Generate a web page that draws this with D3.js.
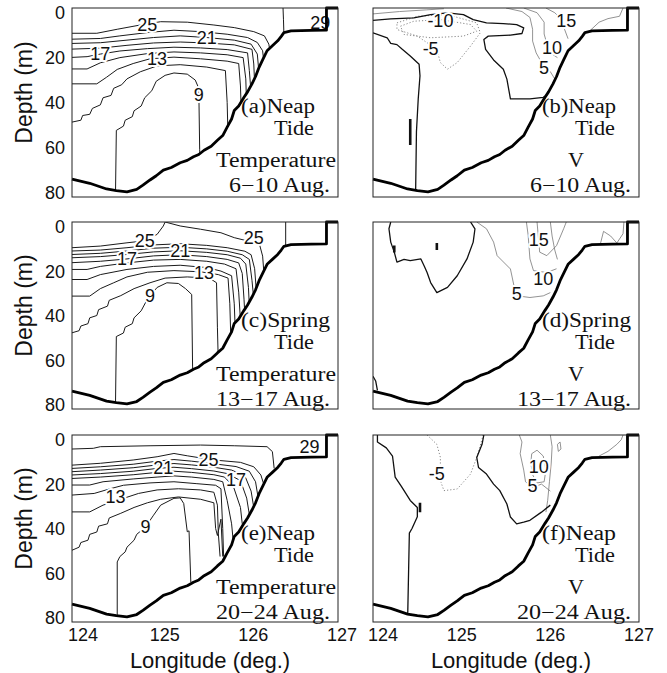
<!DOCTYPE html>
<html>
<head>
<meta charset="utf-8">
<script src="https://cdn.jsdelivr.net/npm/d3@7"></script>
<style>
  body { margin: 0; background: #fff; }
  text { font-family: "Liberation Sans", Arial, sans-serif; fill: #111; }
  .note { font-family: "Liberation Serif", "Times New Roman", serif; font-size: 20px; }
  .clab { font-size: 18px; stroke: #fff; stroke-width: 4px; paint-order: stroke; stroke-linejoin: round; }
</style>
</head>
<body>
<div id="chart"></div>
<script>
// axis ticks
const lonTicks = [124, 125, 126, 127];
const depthTicks = [0, 20, 40, 60, 80];

// bottom topography (lon, depth m) - same section for all panels
const bathy = [[124.0,72.4],[124.2,74.2],[124.39,76.6],[124.5,77.3],[124.62,77.8],[124.73,76.8],
  [124.8,75],[124.88,72.8],[124.95,71],[125.03,68.6],[125.12,67.5],[125.22,65.5],[125.3,64.5],
  [125.37,63],[125.43,62],[125.49,60.2],[125.57,58.5],[125.64,56],[125.7,54],[125.75,50.4],
  [125.8,47],[125.83,43.4],[125.88,41.5],[125.94,37.8],[125.98,35.5],[126.03,32.1],[126.07,29],
  [126.11,25.1],[126.15,22],[126.2,18.1],[126.26,16],[126.32,13.9],[126.36,12],[126.39,10.4],
  [126.47,9.7],[126.7,9.5],[126.87,9.4],[126.87,0],[127,0]];

// temperature contours, 6-10 Aug. (neap)
const tempA = [
  [[126.38,0],[126.385,5],[126.39,11]],
  [[124,10.7],[124.28,10.7],[124.51,9.0],[124.77,7.2],[125.0,5.8],[125.3,6.0],[125.6,7.2],[125.83,8.3],[126.05,10.0],[126.17,11.8],[126.22,15.3],[126.24,20]],
  [[124,13.2],[124.32,12.9],[124.54,11.8],[124.85,10.4],[125.15,9.4],[125.45,10.0],[125.75,11.1],[125.98,12.5],[126.09,14.6],[126.15,18.1],[126.17,25]],
  [[124,15.0],[124.32,14.7],[124.62,13.6],[124.92,12.5],[125.22,11.8],[125.52,12.5],[125.83,13.6],[126.02,15.3],[126.09,19.5],[126.11,28]],
  [[124,17.4],[124.32,17.0],[124.62,15.8],[124.92,14.8],[125.22,14.4],[125.52,14.8],[125.83,15.6],[126.03,17.5],[126.05,23.7],[126.06,32]],
  [[124,20.9],[124.17,20.6],[124.32,19.5],[124.54,18.2],[124.85,17.2],[125.15,16.6],[125.45,16.9],[125.75,17.6],[125.98,19],[126.0,26.5],[126.02,36]],
  [[124,25.8],[124.17,25.8],[124.32,23.2],[124.54,21],[124.85,19.3],[125.15,18.6],[125.45,19],[125.75,19.8],[125.93,21],[125.96,30],[125.97,42]],
  [[124,32.1],[124.28,32.1],[124.39,29.3],[124.51,26],[124.69,23.5],[124.88,21.5],[125.15,20.8],[125.45,21.5],[125.75,22.5],[125.88,23.5],[125.9,33],[125.91,45]],
  [[124,48.3],[124.1,47.5],[124.12,45.5],[124.2,45],[124.23,42.5],[124.32,41],[124.35,38],[124.44,37],[124.47,34],[124.56,32.5],[124.62,30],[124.77,27],[124.96,24.5],[125.22,24],[125.52,25],[125.73,26.5],[125.75,40],[125.76,55]],
  [[124.49,80],[124.5,51.8],[124.58,50],[124.6,47.5],[124.68,46],[124.7,43.5],[124.78,41.5],[124.82,38],[124.9,35],[124.95,31],[125.05,28.5],[125.15,27.5],[125.3,28],[125.39,30.5],[125.43,34],[125.44,60],[125.45,70]]
];
const labA = [["25",124.85,7],["21",125.52,12.6],["17",124.32,19.6],["13",124.96,21.4],["9",125.43,37],["29",126.8,6.3]];

// temperature contours, 13-17 Aug. (spring)
const tempC = [
  [[126.41,0],[126.41,10.5]],
  [[124,11],[124.32,10.3],[124.62,8.9],[124.81,8.1],[124.96,5.3],[125.03,1.7],[125.05,0]],
  [[125.05,0],[125.22,1.7],[125.45,3.1],[125.68,4.6],[125.83,6.7],[125.98,8.1],[126.11,8.9],[126.15,14.6],[126.17,24.6]],
  [[124,12.4],[124.32,12],[124.62,11],[124.92,9.8],[125.22,9.3],[125.52,10],[125.75,11],[125.95,12.5],[126.02,14],[126.06,20],[126.08,30]],
  [[124,13.9],[124.32,13.4],[124.62,12.4],[124.92,11.2],[125.22,10.8],[125.52,11.5],[125.75,12.5],[125.92,14],[126.0,16],[126.03,25],[126.05,33]],
  [[124,15.3],[124.32,14.8],[124.62,13.9],[124.92,12.8],[125.22,12.3],[125.52,13],[125.75,14],[125.9,15.5],[125.96,18],[125.99,28],[126.0,36]],
  [[124,17.4],[124.32,16.8],[124.62,15.8],[124.92,14.5],[125.22,14],[125.52,14.8],[125.75,16],[125.88,17.5],[125.92,22],[125.94,33],[125.95,40]],
  [[124,20.3],[124.17,20.3],[124.32,19],[124.62,17.5],[124.92,16.3],[125.22,16],[125.52,16.8],[125.72,18],[125.85,20],[125.88,30],[125.9,42]],
  [[124,24.6],[124.17,24.6],[124.32,22.5],[124.62,20.3],[124.92,19],[125.22,18.5],[125.52,19.5],[125.68,21],[125.8,23],[125.83,35],[125.84,45]],
  [[124,31.7],[124.2,31.7],[124.32,28.5],[124.47,26],[124.62,23.5],[124.85,21.5],[125.15,20.8],[125.45,21.3],[125.65,22.5],[125.76,24],[125.78,35],[125.79,48]],
  [[124,47.4],[124.08,46.5],[124.1,44.5],[124.18,43.5],[124.2,41],[124.28,40],[124.3,37.5],[124.4,36],[124.42,33.5],[124.55,31.5],[124.7,28.5],[124.88,26],[125.05,24],[125.3,23.5],[125.55,24],[125.63,26],[125.64,45],[125.65,60]],
  [[124.49,80],[124.5,49],[124.58,47.5],[124.6,45],[124.68,43.5],[124.7,41],[124.78,38],[124.85,33],[124.96,28],[125.07,26],[125.2,26.3],[125.28,28.5],[125.35,31],[125.36,62],[125.37,70]]
];
const labC = [["25",124.82,8],["25",126.05,6.9],["21",125.22,12.2],["17",124.62,16],["13",125.49,21.7],["9",124.88,31.7]];

// temperature contours, 20-24 Aug. (neap)
const tempE = [
  [[124,6],[124.24,5.7],[124.32,5],[124.88,4.6],[125.45,4.3],[125.83,4.6],[126.2,5],[126.26,7.1],[126.28,14.3]],
  [[124,12.9],[124.32,12.1],[124.69,10.7],[124.96,9.3],[125.15,7.9],[125.3,8.9],[125.6,10.7],[125.9,11.7],[126.05,13.6],[126.13,17.1],[126.17,22]],
  [[124,14.3],[124.32,13.6],[124.69,12.5],[124.96,11.2],[125.15,10.5],[125.35,11.2],[125.6,12.3],[125.85,13.5],[126.0,15.5],[126.07,20],[126.1,27]],
  [[124,15.7],[124.32,15],[124.69,14],[124.96,12.8],[125.15,12.2],[125.35,12.8],[125.6,13.8],[125.8,15],[125.95,17.5],[126.02,24],[126.05,31]],
  [[124,17.1],[124.32,16.5],[124.69,15.5],[124.96,14.3],[125.15,13.8],[125.35,14.4],[125.6,15.4],[125.75,16.5],[125.9,19.5],[125.97,27],[126.0,34]],
  [[124,18.6],[124.32,18],[124.69,17],[124.96,16],[125.15,15.5],[125.35,16],[125.6,17],[125.72,18],[125.82,22],[125.9,31],[125.92,38]],
  [[124,21.4],[124.2,21.4],[124.35,20],[124.69,18.8],[124.96,18],[125.15,17.5],[125.35,18],[125.6,19],[125.7,20],[125.75,28],[125.8,38],[125.82,46]],
  [[124,25.7],[124.25,25],[124.43,23],[124.58,21.5],[124.88,20.5],[125.15,20],[125.4,20.8],[125.62,21.5],[125.68,23],[125.7,40],[125.71,52]],
  [[124,32.9],[124.2,32.9],[124.35,30],[124.55,27.5],[124.75,25],[124.96,23.5],[125.2,23],[125.45,23.5],[125.6,24.5],[125.64,30],[125.65,42],[125.67,52]],
  [[124,49.3],[124.08,48],[124.1,46],[124.18,45],[124.2,42.5],[124.28,41.5],[124.3,39],[124.4,38],[124.42,35.5],[124.55,33.5],[124.7,31],[124.85,29],[125.0,27.5],[125.2,26.5],[125.45,27.5],[125.6,29],[125.62,40],[125.64,43],[125.68,36],[125.7,52]],
  [[124.51,79],[124.51,54.3],[124.54,52],[124.6,50],[124.62,48],[124.7,45],[124.73,42.5],[124.83,39.3],[124.92,34.3],[125.0,30],[125.15,27.1],[125.22,26.9],[125.26,29.3],[125.3,41.4],[125.32,41],[125.34,63]]
];
const labE = [["29",126.68,5],["25",125.54,10.5],["21",125.03,14.1],["17",125.85,19.3],["13",124.49,26.4],["9",124.83,39.3]];

// V (along-section velocity) contours: zero lines, positive lines, negative lines
const zeroB = [
  [[124,5.2],[124.2,4.6],[124.46,4.2],[124.65,2.8],[124.84,2.1],[125.02,2.8],[125.13,4.9],[125.28,6.3],[125.47,6.6],[125.62,7.0],[125.7,8.4],[125.68,10.8],[125.55,11.5],[125.3,11.9],[125.25,13.3],[125.27,17.5],[125.36,22],[125.47,25.9],[125.51,30.1],[125.55,38.5],[125.77,38.5],[125.92,37.8],[126.0,36]],
  [[124,10.5],[124.16,12.6],[124.2,15],[124.27,15.5],[124.33,17.5],[124.42,20.3],[124.52,23.8],[124.53,28.7],[124.51,38.5],[124.49,52.4],[124.48,80]]
];
const posB = [
  [[125.5,0],[125.68,1.5],[125.77,4],[125.8,9],[125.8,14],[125.84,19],[125.9,23],[126.0,27],[126.05,30]],
  [[125.7,0],[125.85,2],[125.93,6],[125.93,11],[125.96,15],[126.0,19],[126.08,21]],
  [[125.95,0],[126.05,2],[126.13,5],[126.16,9],[126.2,13]],
  [[126.45,9.5],[126.55,6],[126.65,4.5],[126.78,3.5],[126.82,0]],
  [[124,2.5],[124.3,1.5],[124.6,0.8],[124.8,0.3]]
];
const negB = [
  [[124.31,7.7],[124.46,5.6],[124.76,4.9],[125.1,7.0],[125.17,9.8],[125.02,11.9],[124.65,12.6],[124.35,11.2],[124.31,7.7]],
  [[124.27,6.3],[124.5,3.5],[124.84,2.8],[125.17,6.3],[125.21,10.5],[125.1,16.1],[124.95,23.1],[124.84,25.9],[124.76,23.1],[124.72,17.5],[124.5,11.9],[124.27,9.1],[124.27,6.3]]
];
const blobB = [[[124.42,47],[124.42,58]]];
const labB = [["-10",124.76,5.4],["-5",124.65,17.5],["15",126.18,5.6],["10",126.02,16.8],["5",125.93,25.6]];

const zeroD = [
  [[124.2,0],[124.18,2.9],[124.2,8.6],[124.24,12.9],[124.27,17.2],[124.35,16],[124.42,16.5],[124.54,15.8],[124.58,19],[124.61,21.6],[124.65,25.9],[124.72,30.2],[124.84,28],[124.95,23],[125.06,15.8],[125.13,8.6],[125.15,2.9],[125.1,0]],
  [[124.0,66],[124.03,68],[124.05,72]]
];
const posD = [
  [[125.17,0],[125.28,2.9],[125.36,8.6],[125.4,14.4],[125.55,20.1],[125.59,27.3],[125.63,31.6],[125.77,32.3],[125.92,31.6],[126.0,30.2]],
  [[125.73,0],[125.75,5.7],[125.77,15.8],[125.81,20.8],[125.96,21.6],[126.07,20]],
  [[125.85,0],[125.87,8.6],[125.88,12.9],[125.96,14.4],[126.07,10.1],[126.15,2.9],[126.18,0]],
  [[126.0,0],[126.02,6],[126.05,12],[126.08,16]],
  [[126.56,10],[126.6,4],[126.68,6],[126.75,9],[126.82,5],[126.83,0]]
];
const negD = [];
const blobD = [[[124.24,10],[124.24,13]],[[124.72,9],[124.72,12]]];
const labD = [["15",125.87,7.9],["10",125.92,24.2],["5",125.62,30.9]];

const zeroF = [
  [[124.05,0],[124.05,3],[124.15,5.5],[124.22,9],[124.25,18],[124.32,22],[124.42,28],[124.5,31],[124.5,35],[124.44,40],[124.41,42],[124.39,80]],
  [[125.25,0],[125.23,4],[125.17,9.6],[125.19,13.9],[125.28,16.7],[125.36,21],[125.43,23.8],[125.51,29.5],[125.55,35.1],[125.62,38],[125.7,37.3],[125.77,36.5],[125.9,33],[126.0,30]]
];
const posF = [
  [[125.65,0],[125.68,3],[125.66,8],[125.7,15],[125.72,20],[125.8,22.5],[125.9,21],[126.0,24]],
  [[126.0,0],[126.02,5],[126.01,12],[125.99,20],[125.97,28],[125.95,33]],
  [[125.79,8],[125.85,6.5],[125.92,9],[125.95,15],[125.93,20],[125.85,20.5],[125.8,17],[125.78,12],[125.79,8]],
  [[126.08,4],[126.11,3],[126.12,6],[126.09,7],[126.08,4]],
  [[126.55,9],[126.65,7],[126.75,4],[126.8,2],[126.82,0]]
];
const negF = [
  [[124.61,0],[124.72,4],[124.76,9.6],[124.76,19.5],[124.8,23.8],[124.95,23.1],[125.1,16.7],[125.17,9.6],[125.23,1.8],[125.24,0]]
];
const blobF = [[[124.53,29],[124.53,33]]];
const labF = [["-5",124.72,16.7],["10",125.87,13.9],["5",125.8,21.7]];

const tideNames = ["Neap", "Spring", "Neap"];
const periods = ["6\u221210 Aug.", "13\u221217 Aug.", "20\u221224 Aug."];

// ---- layout ----
const width = 667, height = 673;
const colX = [[72, 338], [373, 639]];
const rowY = [[8, 197], [222, 409], [435, 622]];

const svg = d3.select("#chart").append("svg")
  .attr("width", width)
  .attr("height", height);

function panelScales(c, r) {
  const x = d3.scaleLinear().domain([124, 127]).range(colX[c]);
  const y = d3.scaleLinear().domain([0, 80]).range(rowY[r]);
  return {x, y};
}

function drawPanel(id, c, r, sets, labels, what) {
  const {x, y} = panelScales(c, r);
  const line = d3.line().x(d => x(d[0])).y(d => y(d[1]));
  const g = svg.append("g");

  // water region: everything above the bottom
  g.append("clipPath").attr("id", "clip-" + id)
    .append("path")
    .attr("d", line(bathy.concat([[124, 0]])) + "Z");

  const cg = g.append("g").attr("clip-path", "url(#clip-" + id + ")");
  sets.forEach(s => {
    cg.selectAll(null)
      .data(s.lines)
      .enter().append("path")
      .attr("d", line)
      .attr("fill", "none")
      .attr("stroke", s.color)
      .attr("stroke-width", s.w)
      .attr("stroke-dasharray", s.dash || null)
      .attr("stroke-linejoin", "round");
  });

  // contour labels
  g.selectAll(null)
    .data(labels)
    .enter().append("text")
    .attr("class", "clab")
    .attr("x", d => x(d[1]))
    .attr("y", d => y(d[2]))
    .attr("text-anchor", "middle")
    .attr("dominant-baseline", "central")
    .text(d => d[0]);

  // bottom
  g.append("path")
    .attr("d", line(bathy))
    .attr("fill", "none")
    .attr("stroke", "#000")
    .attr("stroke-width", 2.8)
    .attr("stroke-linejoin", "round");

  // frame
  g.append("rect")
    .attr("x", colX[c][0]).attr("y", rowY[r][0])
    .attr("width", colX[c][1] - colX[c][0])
    .attr("height", rowY[r][1] - rowY[r][0])
    .attr("fill", "none")
    .attr("stroke", "#222")
    .attr("stroke-width", 1);

  // notes
  const x0 = colX[c][0], y0 = rowY[r][0];
  const note = (t, tx, ty, anchor, len) => g.append("text")
    .attr("class", "note")
    .attr("x", tx).attr("y", ty)
    .attr("text-anchor", anchor)
    .attr("textLength", len)
    .attr("lengthAdjust", "spacingAndGlyphs")
    .text(t);
  note("(" + id + ")" + tideNames[r], x0 + 169, y0 + 105, "start", r === 1 ? 89 : 74);
  note("Tide", x0 + 242, y0 + 127, "end", 40);
  if (what === "T") {
    note("Temperature", x0 + 264, y0 + 159, "end", 120);
  } else {
    note("V", x0 + 203, y0 + 159, "middle", 16);
  }
  note(periods[r], x0 + 258, y0 + 184, "end", r === 0 ? 101 : 114);
}

const tLines = l => [{lines: l, color: "#1a1a1a", w: 1}];
const vLines = (z, p, n, b) => [
  {lines: p, color: "#777", w: 0.8},
  {lines: n, color: "#888", w: 1, dash: "1.2,2"},
  {lines: z, color: "#111", w: 1.3},
  {lines: b, color: "#111", w: 2.6}
];

drawPanel("a", 0, 0, tLines(tempA), labA, "T");
drawPanel("b", 1, 0, vLines(zeroB, posB, negB, blobB), labB, "V");
drawPanel("c", 0, 1, tLines(tempC), labC, "T");
drawPanel("d", 1, 1, vLines(zeroD, posD, negD, blobD), labD, "V");
drawPanel("e", 0, 2, tLines(tempE), labE, "T");
drawPanel("f", 1, 2, vLines(zeroF, posF, negF, blobF), labF, "V");

// depth axes on left column
rowY.forEach(ry => {
  const ly = d3.scaleLinear().domain([0, 80]).range([ry[0] + 5, ry[1] - 4]);
  svg.append("g").selectAll(null)
    .data(depthTicks)
    .enter().append("text")
    .attr("x", 65)
    .attr("y", d => ly(d))
    .attr("text-anchor", "end")
    .attr("dominant-baseline", "central")
    .attr("font-size", 18)
    .text(d => d);
  svg.append("text")
    .attr("transform", "translate(32," + ((ry[0] + ry[1]) / 2 - 10) + ") rotate(-90)")
    .attr("text-anchor", "middle")
    .attr("font-size", 23)
    .text("Depth (m)");
});

// longitude axes on bottom row
colX.forEach((cx, c) => {
  const {x} = panelScales(c, 2);
  svg.append("g").selectAll(null)
    .data(lonTicks)
    .enter().append("text")
    .attr("x", (d, i) => i === 0 ? x(d) - (c === 0 ? 4 : 5) : x(d) + (c === 0 ? 4 : 0))
    .attr("y", 641)
    .attr("text-anchor", (d, i) => i === 0 ? "start" : "middle")
    .attr("font-size", 18)
    .text(d => d);
  svg.append("text")
    .attr("x", (cx[0] + cx[1]) / 2 + 5)
    .attr("y", 668)
    .attr("text-anchor", "middle")
    .attr("font-size", 22)
    .text("Longitude (deg.)");
});
</script>
</body>
</html>
